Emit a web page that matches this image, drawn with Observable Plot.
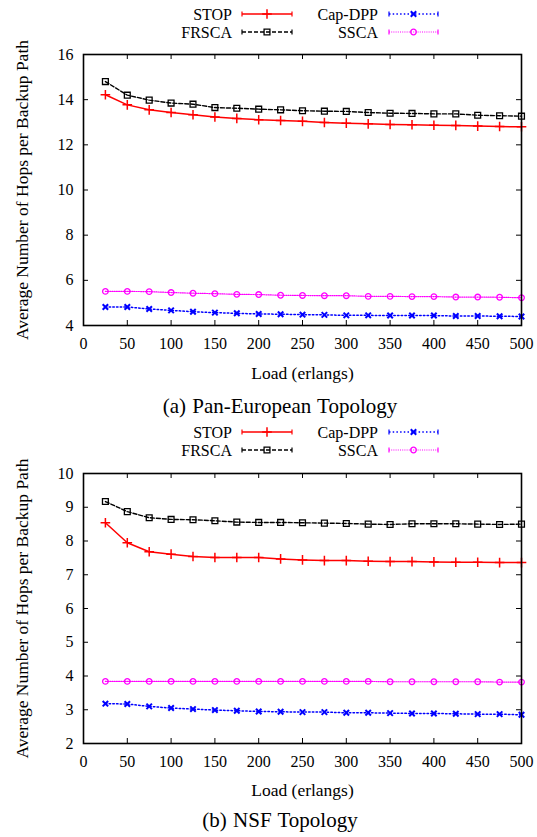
<!DOCTYPE html>
<html><head><meta charset="utf-8">
<script src="https://cdn.jsdelivr.net/npm/d3@7"></script>
<script src="https://cdn.jsdelivr.net/npm/@observablehq/plot@0.6"></script>
<style>
body{margin:0;background:#fff;font-family:"Liberation Serif","Times New Roman",Times,"DejaVu Serif",serif;}
#root{position:relative;width:537px;height:837px;overflow:hidden;background:#fff;}
.abs{position:absolute;}
.caption{font-size:21px;line-height:24px;text-align:center;color:#000;white-space:nowrap;word-spacing:1px;font-family:"Liberation Serif","Times New Roman",Times,"DejaVu Serif",serif;}
</style></head><body><div id="root"></div>
<script>
// ---------- data ----------
const loads = [25, 50, 75, 100, 125, 150, 175, 200, 225, 250, 275, 300, 325, 350, 375, 400, 425, 450, 475, 500];
const seriesNames = ["STOP", "FRSCA", "Cap-DPP", "SSCA"];
const xTicks = [0, 50, 100, 150, 200, 250, 300, 350, 400, 450, 500];

// (a) Pan-European Topology
const panStop  = [14.22, 13.77, 13.55, 13.43, 13.33, 13.23, 13.17, 13.11, 13.08, 13.04, 12.99, 12.96, 12.93, 12.90, 12.89, 12.87, 12.86, 12.83, 12.81, 12.80];
const panFrsca = [14.80, 14.20, 13.98, 13.85, 13.80, 13.65, 13.62, 13.58, 13.55, 13.51, 13.49, 13.48, 13.43, 13.40, 13.39, 13.37, 13.37, 13.31, 13.29, 13.27];
const panCap   = [4.82, 4.82, 4.73, 4.67, 4.61, 4.57, 4.54, 4.51, 4.50, 4.48, 4.47, 4.45, 4.45, 4.44, 4.44, 4.44, 4.42, 4.42, 4.41, 4.40];
const panSsca  = [5.51, 5.51, 5.50, 5.46, 5.43, 5.41, 5.38, 5.37, 5.34, 5.33, 5.32, 5.32, 5.29, 5.29, 5.28, 5.28, 5.26, 5.26, 5.25, 5.23];
const panYTicks = [4, 6, 8, 10, 12, 14, 16];

// (b) NSF Topology
const nsfStop  = [8.54, 7.95, 7.68, 7.61, 7.54, 7.51, 7.51, 7.51, 7.47, 7.44, 7.42, 7.42, 7.40, 7.39, 7.39, 7.38, 7.37, 7.37, 7.36, 7.36];
const nsfFrsca = [9.17, 8.87, 8.69, 8.64, 8.63, 8.60, 8.56, 8.55, 8.55, 8.54, 8.53, 8.52, 8.50, 8.49, 8.51, 8.51, 8.51, 8.50, 8.49, 8.50];
const nsfCap   = [3.18, 3.17, 3.10, 3.05, 3.02, 2.99, 2.97, 2.95, 2.94, 2.93, 2.93, 2.91, 2.91, 2.90, 2.89, 2.89, 2.88, 2.87, 2.87, 2.85];
const nsfSsca  = [3.84, 3.84, 3.84, 3.84, 3.84, 3.84, 3.84, 3.84, 3.84, 3.84, 3.84, 3.84, 3.84, 3.83, 3.83, 3.83, 3.83, 3.83, 3.82, 3.82];
const nsfYTicks = [2, 3, 4, 5, 6, 7, 8, 9, 10];

const xLabel = "Load (erlangs)";
const yLabel = "Average Number of Hops per Backup Path";
const captions = ["(a) Pan-European Topology", "(b) NSF Topology"];

// ---------- styles ----------
const styles = {
  "STOP":    {color: "#ff0000", dash: null,   width: 1.5, symbol: "plus",   r: 3.2, sw: 1.5},
  "FRSCA":   {color: "#000000", dash: "4,2",  width: 1.4, symbol: "square", r: 3.3, sw: 1.3},
  "Cap-DPP": {color: "#0000ff", dash: "1.5,2.2", width: 1.5, symbol: "times", r: 2.6, sw: 2},
  "SSCA":    {color: "#ff00ff", dash: "1,1.2", width: 1.2, symbol: "circle", r: 2.8, sw: 1.3}
};
const FONT = '"Liberation Serif", "Times New Roman", Times, "DejaVu Serif", serif';
const root = document.getElementById("root");

function tidy(arrays) {
  const rows = [];
  seriesNames.forEach((name, i) => arrays[i].forEach((v, j) => rows.push({series: name, load: loads[j], value: v})));
  return rows;
}

function legend(top) {
  const W = 537, H = 45;
  const svg = d3.create("svg").attr("width", W).attr("height", H)
    .style("position", "absolute").style("left", "0px").style("top", top + "px");
  const cols = [{textRight: 232, x0: 242, x1: 292}, {textRight: 378, x0: 389, x1: 438}];
  const rowsY = [20, 38];
  seriesNames.forEach((name, i) => {
    const c = cols[Math.floor(i / 2)], by = rowsY[i % 2], ly = by - 6;
    const s = styles[name];
    svg.append("text").attr("x", c.textRight).attr("y", by).attr("text-anchor", "end")
      .style("font-family", FONT).style("font-size", "16px").attr("fill", "#000").text(name);
    svg.append("line").attr("x1", c.x0).attr("x2", c.x1).attr("y1", ly).attr("y2", ly)
      .attr("stroke", s.color).attr("stroke-width", s.width).attr("stroke-dasharray", s.dash);
    [c.x0, c.x1].forEach(x => svg.append("line").attr("x1", x).attr("x2", x).attr("y1", ly - 2.5).attr("y2", ly + 2.5)
      .attr("stroke", s.color).attr("stroke-width", 1.2));
    const sym = {plus: d3.symbolPlus, square: d3.symbolSquare, times: d3.symbolTimes, circle: d3.symbolCircle}[s.symbol];
    svg.append("path").attr("d", d3.symbol(sym, Math.PI * s.r * s.r)())
      .attr("transform", `translate(${(c.x0 + c.x1) / 2},${ly})`)
      .attr("fill", "none").attr("stroke", s.color).attr("stroke-width", s.sw);
  });
  root.appendChild(svg.node());
}

function chart(arrays, yDomain, yTicks, top, height, mTop, mBottom, labelOff) {
  const data = tidy(arrays);
  const mLeft = 83, mRight = 16, W = 537;
  const pw = W - mLeft - mRight, ph = height - mTop - mBottom;
  const marks = [];
  seriesNames.forEach(name => {
    const s = styles[name];
    const d = data.filter(r => r.series === name);
    marks.push(Plot.line(d, {x: "load", y: "value", stroke: s.color, strokeWidth: s.width, strokeDasharray: s.dash}));
    marks.push(Plot.dot(d, {x: "load", y: "value", symbol: () => s.symbol, r: s.r, stroke: s.color, fill: "none", strokeWidth: s.sw}));
  });
  const p = Plot.plot({
    width: W, height, marginTop: mTop, marginBottom: mBottom, marginLeft: mLeft, marginRight: mRight,
    style: {fontFamily: FONT, fontSize: "16px", color: "#000", background: "transparent", overflow: "visible"},
    x: {domain: [0, 500]},
    y: {domain: yDomain},
    symbol: {type: "identity"},
    marks: [
      Plot.tickX(xTicks, {x: d => d, insetBottom: ph - 5, stroke: "#000", strokeWidth: 1}),
      Plot.tickX(xTicks, {x: d => d, insetTop: ph - 5, stroke: "#000", strokeWidth: 1}),
      Plot.tickY(yTicks, {y: d => d, insetRight: pw - 5, stroke: "#000", strokeWidth: 1}),
      Plot.tickY(yTicks, {y: d => d, insetLeft: pw - 5, stroke: "#000", strokeWidth: 1}),
      ...marks,
      Plot.frame({stroke: "#000", strokeWidth: 1.6}),
      Plot.axisX(xTicks, {tickSize: 0, tickPadding: 12, label: null, fontSize: 16, fontFamily: FONT}),
      Plot.axisX([], {tickSize: 0, label: xLabel, labelArrow: "none", labelAnchor: "center", labelOffset: labelOff, fontSize: 17.5, fontFamily: FONT}),
      Plot.axisY(yTicks, {tickSize: 0, tickPadding: 10, label: null, fontSize: 16, fontFamily: FONT}),
      Plot.axisY([], {tickSize: 0, label: yLabel, labelArrow: "none", labelAnchor: "center", labelOffset: 68, fontSize: 17.5, fontFamily: FONT})
    ]
  });
  p.style.position = "absolute";
  p.style.left = "0px";
  p.style.top = top + "px";
  root.appendChild(p);
}

function caption(text, top) {
  const div = document.createElement("div");
  div.className = "abs caption";
  div.style.left = "23px"; div.style.width = "514px"; div.style.top = top + "px";
  div.textContent = text;
  root.appendChild(div);
}

legend(0);
chart([panStop, panFrsca, panCap, panSsca], [4, 16], panYTicks, 45, 345, 9, 65, 53);
caption(captions[0], 394);
legend(418);
chart([nsfStop, nsfFrsca, nsfCap, nsfSsca], [2, 10], nsfYTicks, 465, 340, 8, 62, 52);
caption(captions[1], 808);
</script>
</body></html>
